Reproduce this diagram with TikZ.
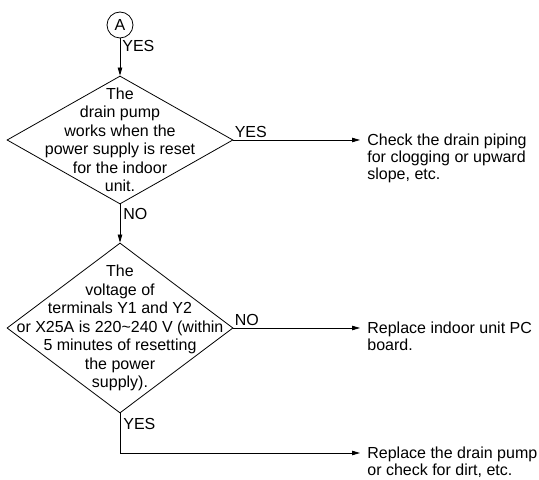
\documentclass[tikz,border=0pt]{standalone}
\usepackage{fontspec}
\setmainfont{Liberation Sans}
\usetikzlibrary{
  arrows.meta,
  shapes.geometric,
  positioning
}
\tikzset{
  connector/.style={circle,draw,minimum size=26pt,inner sep=0pt},
  decision/.style={diamond,draw,minimum width=226pt,inner sep=0pt},
  inside/.style={align=center,inner sep=0pt,font=\fontsize{16}{18.5}\selectfont},
  outcome/.style={align=left,inner sep=0pt,anchor=north west,font=\fontsize{16}{17}\selectfont},
  lbl/.style={inner sep=0pt}
}

\begin{document}
\begin{tikzpicture}[x=1pt,y=1pt,line width=0.8pt,
    >={Triangle[length=8pt,width=4.5pt]},font=\fontsize{16}{18.5}\selectfont]
    %frame
    \useasboundingbox (0,0) rectangle (539,480);
    %shapes
    \node[connector] (A) at (120,455) {A};
    \node[decision,minimum height=128pt] (D1) at (120,340) {};
    \node[inside] (D1txt) at (D1.center) {The\\drain pump\\works when the\\power supply is reset\\for the indoor\\unit.};
    \node[decision,minimum height=170pt] (D2) at (120,152) {};
    \node[inside] (D2txt) at (D2.center) {The\\voltage of\\terminals Y1 and Y2\\or X25A is 220\textasciitilde240 V (within\\5 minutes of resetting\\the power\\supply).};
    %results
    \node[outcome] (R1) at (367,346) {Check the drain piping\\for clogging or upward\\slope, etc.};
    \node[outcome] (R2) at (367,158) {Replace indoor unit PC\\board.};
    \node[outcome] (R3) at (367,33) {Replace the drain pump\\or check for dirt, etc.};
    \coordinate (bend) at (120,27);
    %connectors
    \draw[->] (A) -- (D1);
    \draw[->] (D1) -- (D2);
    \draw[->] (D1.east) -- ([xshift=-7pt]D1.east -| R1.west);
    \draw[->] (D2.east) -- ([xshift=-7pt]D2.east -| R2.west);
    \draw[->] (D2.south) -- (bend) -- ([xshift=-7pt]bend -| R3.west);
    %labels
    \node[lbl,anchor=north west] (yesA) at ([shift={(2pt,-2pt)}]A.south) {YES};
    \node[lbl,anchor=north west] (noD1) at ([shift={(3pt,-4pt)}]D1.south) {NO};
    \node[lbl,anchor=south west] (yesD1) at ([shift={(1pt,2pt)}]D1.east) {YES};
    \node[lbl,anchor=south west] (noD2) at ([shift={(1pt,2pt)}]D2.east) {NO};
    \node[lbl,anchor=north west] (yesD2) at ([shift={(3pt,-5pt)}]D2.south) {YES};
\end{tikzpicture}
\end{document}
